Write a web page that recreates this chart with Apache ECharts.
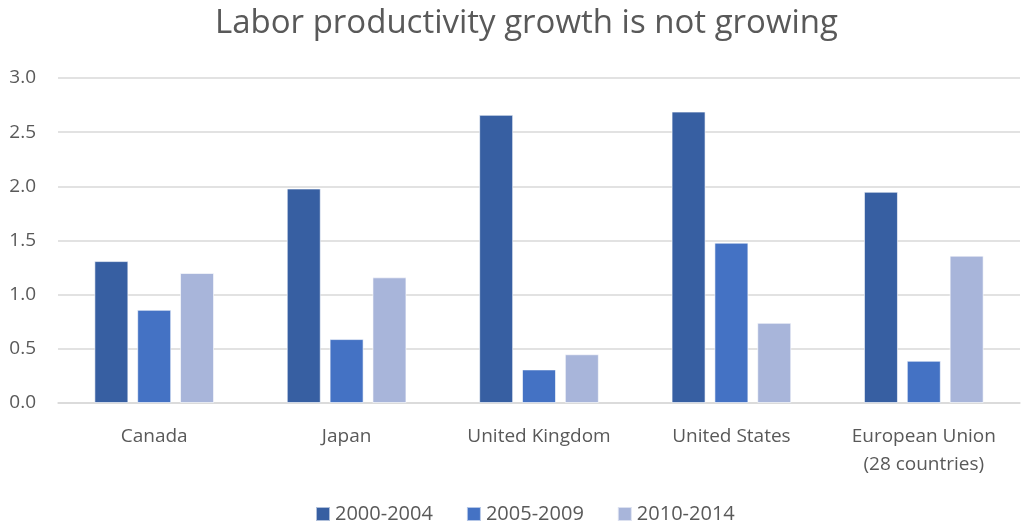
<!DOCTYPE html>
<html>
<head>
<meta charset="utf-8">
<title>Labor productivity growth</title>
<script src="https://cdn.jsdelivr.net/npm/echarts@6/dist/echarts.min.js"></script>
<style>
html, body { margin: 0; padding: 0; background: #fff; }
#chart { width: 1021px; height: 529px; }
</style>
</head>
<body>
<div id="chart"></div>
<script>
var countries = ['Canada', 'Japan', 'United Kingdom', 'United States', 'European Union\n(28 countries)'];
var periods = ['2000-2004', '2005-2009', '2010-2014'];
var growth2000 = [1.31, 1.98, 2.66, 2.69, 1.95];
var growth2005 = [0.86, 0.59, 0.31, 1.48, 0.39];
var growth2010 = [1.20, 1.16, 0.45, 0.74, 1.36];
var colors = ['#375FA2', '#4472C4', '#A8B5DA'];

var font = '"Open Sans", "Noto Sans", sans-serif';
var chart = echarts.init(document.getElementById('chart'));

function bar(name, data, color) {
    return {
        name: name,
        type: 'bar',
        data: data,
        barWidth: 34,
        barGap: '26%',
        itemStyle: { color: color, borderColor: 'rgba(255,255,255,0.6)', borderWidth: 1 }
    };
}

var option = {
    backgroundColor: '#fff',
    color: colors,
    title: {
        text: 'Labor productivity growth is not growing',
        left: 210,
        top: 2,
        textStyle: { color: '#595959', fontSize: 33, fontWeight: 'normal', fontFamily: font }
    },
    legend: {
        bottom: 0,
        left: 310,
        itemWidth: 14,
        itemHeight: 14,
        itemGap: 33,
        icon: 'rect',
        textStyle: { color: '#595959', fontSize: 20, fontFamily: font }
    },
    grid: { left: 58, right: 1, top: 78, bottom: 126 },
    xAxis: {
        type: 'category',
        data: countries,
        axisLine: { lineStyle: { color: '#d9d9d9', width: 1.5 } },
        axisTick: { show: false },
        axisLabel: {
            color: '#595959', fontSize: 19, fontFamily: font, margin: 20, lineHeight: 28,
            interval: 0, hideOverlap: false
        }
    },
    yAxis: {
        type: 'value',
        min: 0,
        max: 3,
        interval: 0.5,
        axisLine: { show: false },
        axisTick: { show: false },
        splitLine: { lineStyle: { color: '#d9d9d9', width: 1.5 } },
        axisLabel: {
            color: '#595959', fontSize: 19, fontFamily: font, margin: 22,
            formatter: function (v) { return v.toFixed(1); }
        }
    },
    series: [
        bar(periods[0], growth2000, colors[0]),
        bar(periods[1], growth2005, colors[1]),
        bar(periods[2], growth2010, colors[2])
    ]
};
chart.setOption(option);
</script>
</body>
</html>
